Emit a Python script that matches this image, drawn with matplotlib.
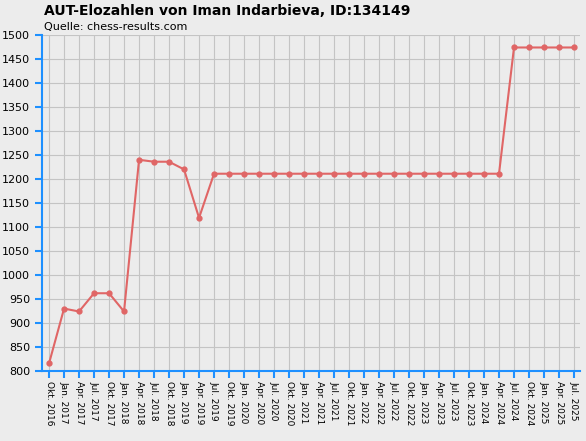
import matplotlib
matplotlib.use("Agg")
import matplotlib.pyplot as plt

# quarterly rating list labels
labels = []
for y in range(2016, 2026):
    for m in ["Jan.", "Apr.", "Jul.", "Okt."]:
        labels.append(f"{m} {y}")
labels = labels[labels.index("Okt. 2016"):labels.index("Jul. 2025") + 1]

ratings = [816, 930, 924, 962, 962, 924, 1240, 1236, 1236, 1220, 1119,
           1211, 1211, 1211, 1211, 1211, 1211, 1211, 1211, 1211, 1211, 1211,
           1211, 1211, 1211, 1211, 1211, 1211, 1211, 1211, 1211,
           1474, 1474, 1474, 1474, 1474]

bg = "#ececec"
blue = "#1e90ff"
fig = plt.figure(figsize=(5.86, 4.41), dpi=100, facecolor=bg)
ax = fig.add_axes([42 / 586, 70 / 441, 538 / 586, 336 / 441], facecolor=bg)

x = list(range(len(labels)))
ax.plot(x, ratings, "-o", color="#e06666", lw=1.5, ms=3.5, zorder=3)

ax.set_xlim(-0.47, 35.4)
ax.set_ylim(800, 1500)
ax.set_yticks(range(800, 1501, 50))
ax.set_xticks(x)
ax.set_xticklabels(labels, rotation=270, fontsize=6.5)
ax.tick_params(axis="y", labelsize=8, color=blue, length=5, width=1.5)
ax.tick_params(axis="x", color=blue, length=5, width=1.5, pad=2)
ax.grid(True, color="#c4c4c4", lw=0.8)
for s in ["top", "right"]:
    ax.spines[s].set_visible(False)
for s in ["left", "bottom"]:
    ax.spines[s].set_color(blue)
    ax.spines[s].set_linewidth(1.5)

fig.text(44 / 586, 1 - 11 / 441, "AUT-Elozahlen von Iman Indarbieva, ID:134149",
         fontsize=10, fontweight="bold", va="center")
fig.text(44 / 586, 1 - 27 / 441, "Quelle: chess-results.com", fontsize=8, va="center")

fig.savefig("out.png", dpi=100, facecolor=bg)
